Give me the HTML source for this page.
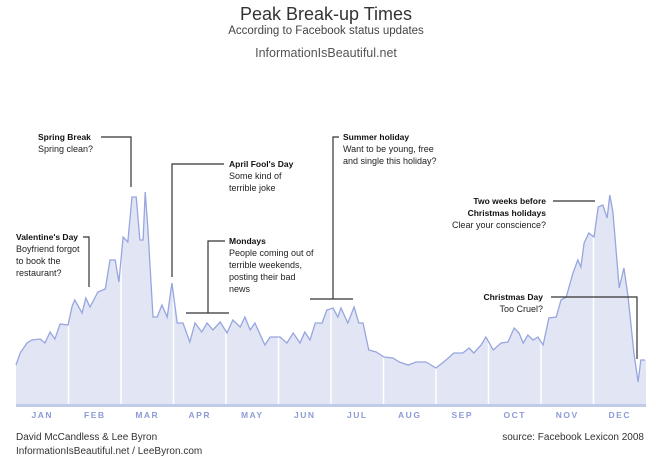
<!DOCTYPE html>
<html><head><meta charset="utf-8"><style>
body{margin:0;background:#fff;width:656px;height:464px;overflow:hidden;font-family:"Liberation Sans",sans-serif}
svg{display:block}
.b{font-weight:bold;font-size:8.5px;fill:#111}
.n{font-size:9px;fill:#222}
.ln{stroke:#333;stroke-width:1.2;fill:none}
.m{font-size:8.5px;font-weight:bold;fill:#8d9bd6;letter-spacing:1.5px}
</style></head><body>
<svg id="chart" width="656" height="464">
<text x="326" y="20" text-anchor="middle" font-size="18" fill="#333">Peak Break-up Times</text>
<text x="326" y="34" text-anchor="middle" font-size="11.5" fill="#444">According to Facebook status updates</text>
<text x="326" y="57" text-anchor="middle" font-size="12.5" fill="#555">InformationIsBeautiful.net</text>
<g id="plot"></g>
<g>
<text x="38" y="140" class="b">Spring Break</text><text x="38" y="152" class="n">Spring clean?</text>
<path class="ln" d="M101 137H131V187"/>
<text x="229" y="167" class="b">April Fool's Day</text><text x="229" y="179" class="n">Some kind of</text><text x="229" y="191" class="n">terrible joke</text>
<path class="ln" d="M224 164H172V277"/>
<text x="16" y="240" class="b">Valentine's Day</text><text x="16" y="252" class="n">Boyfriend forgot</text><text x="16" y="264" class="n">to book the</text><text x="16" y="276" class="n">restaurant?</text>
<path class="ln" d="M83 237H89V287"/>
<text x="229" y="244" class="b">Mondays</text><text x="229" y="256" class="n">People coming out of</text><text x="229" y="268" class="n">terrible weekends,</text><text x="229" y="280" class="n">posting their bad</text><text x="229" y="292" class="n">news</text>
<path class="ln" d="M225 241H208V313M186 313H229"/>
<text x="343" y="140" class="b">Summer holiday</text><text x="343" y="152" class="n">Want to be young, free</text><text x="343" y="164" class="n">and single this holiday?</text>
<path class="ln" d="M339 137H333V299M310 299H353"/>
<text x="546" y="204" class="b" text-anchor="end">Two weeks before</text><text x="546" y="216" class="b" text-anchor="end">Christmas holidays</text><text x="546" y="228" class="n" text-anchor="end">Clear your conscience?</text>
<path class="ln" d="M553 201H595"/>
<text x="543" y="300" class="b" text-anchor="end">Christmas Day</text><text x="543" y="312" class="n" text-anchor="end">Too Cruel?</text>
<path class="ln" d="M551 297H637V359"/>
</g>
<text x="16" y="440" font-size="10" fill="#333">David McCandless &amp; Lee Byron</text>
<text x="16" y="454" font-size="10" fill="#333">InformationIsBeautiful.net / LeeByron.com</text>
<text x="644" y="440" font-size="10" fill="#333" text-anchor="end">source: Facebook Lexicon 2008</text>
</svg>
<script>
const months=["JAN","FEB","MAR","APR","MAY","JUN","JUL","AUG","SEP","OCT","NOV","DEC"];
const monthPos=[0,.08,.21,.30,.46,.55,.65,.74,.84,.99,1.07,1.12,1.26,1.33,1.41,1.56,1.70,1.79,1.89,1.96,2.04,2.13,2.21,2.29,2.36,2.42,2.46,2.51,2.61,2.69,2.78,2.88,2.97,3.07,3.18,3.31,3.41,3.54,3.64,3.75,3.89,4.02,4.13,4.27,4.36,4.46,4.55,4.74,4.84,5.03,5.16,5.28,5.41,5.50,5.60,5.70,5.83,5.92,6.04,6.13,6.19,6.32,6.44,6.53,6.61,6.72,6.86,7.01,7.18,7.30,7.47,7.62,7.81,8.00,8.19,8.34,8.51,8.63,8.72,8.86,8.95,9.09,9.24,9.37,9.49,9.58,9.66,9.75,9.85,9.94,10.04,10.15,10.29,10.38,10.48,10.61,10.70,10.76,10.82,10.91,11.01,11.09,11.18,11.26,11.31,11.37,11.49,11.58,11.66,11.77,11.85,11.90,11.98];
const breakups=[39,51,61,64,65,61,72,65,80,79,98,104,91,106,97,112,115,144,144,122,167,162,207,207,164,164,212,177,87,87,99,87,121,81,81,62,81,72,81,74,82,71,84,77,87,74,81,59,67,67,61,71,61,72,64,81,81,94,96,87,96,81,97,81,81,54,52,47,46,42,39,42,42,36,44,51,51,56,51,59,67,54,61,62,76,71,61,69,64,67,59,86,87,104,107,131,144,137,161,171,167,197,199,186,209,192,116,136,107,51,22,44,44];
const X0=16,X1=646,Y0=404;
const xs=m=>X0+m*(X1-X0)/12;
const ys=v=>Y0-v;
const NS="http://www.w3.org/2000/svg";
const g=document.getElementById('plot');
function mk(t,a){const e=document.createElementNS(NS,t);for(const k in a)e.setAttribute(k,a[k]);g.appendChild(e);return e;}
let d="M"+xs(0)+","+Y0;
let l="";
monthPos.forEach((m,i)=>{d+="L"+xs(m).toFixed(1)+","+ys(breakups[i]);l+=(i?"L":"M")+xs(m).toFixed(1)+","+ys(breakups[i]);});
d+="L"+xs(12)+","+ys(breakups[breakups.length-1])+"L"+xs(12)+","+Y0+"Z";
const area=mk('path',{d:d,fill:'#e1e5f4'});


for(let i=1;i<12;i++){const s=mk('line',{x1:xs(i),x2:xs(i),y1:200,y2:Y0,stroke:'#fff','stroke-width':1.5});

}
const line=mk('path',{d:l,fill:'none',stroke:'#97a6df','stroke-width':1.3});


const ax=mk('rect',{x:X0,y:Y0,width:X1-X0,height:3,fill:'#c3cbeb'});


months.forEach((mn,i)=>{const t=mk('text',{x:xs(i+0.5),y:418,'text-anchor':'middle',class:'m'});t.textContent=mn;

});
</script>
</body></html>
